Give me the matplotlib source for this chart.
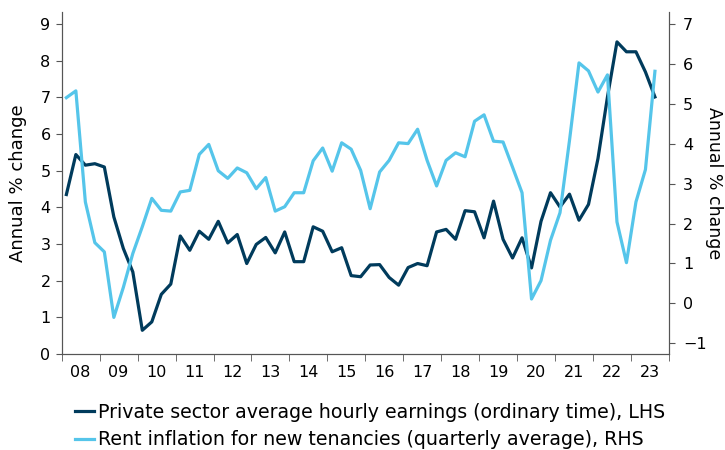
import matplotlib as mpl
mpl.use('Agg')
import matplotlib.pyplot as plt
import numpy as np

## Data (quarterly, 2008 Q1 to 2023 Q3)

start_year = 2008
earnings = [4.35, 5.44, 5.15, 5.19,
            5.10, 3.74, 2.88, 2.24,
            0.65, 0.88, 1.63, 1.91,
            3.22, 2.83, 3.35, 3.13,
            3.62, 3.03, 3.26, 2.47,
            2.99, 3.18, 2.76, 3.33,
            2.52, 2.52, 3.47, 3.35,
            2.79, 2.90, 2.14, 2.11,
            2.43, 2.44, 2.09, 1.88,
            2.36, 2.47, 2.41, 3.33,
            3.40, 3.13, 3.91, 3.88,
            3.17, 4.17, 3.13, 2.62,
            3.17, 2.35, 3.62, 4.40,
            4.01, 4.36, 3.65, 4.08,
            5.33, 7.01, 8.51, 8.24,
            8.24, 7.69, 7.01]
rent = [5.15, 5.32, 2.54, 1.52,
        1.29, -0.35, 0.40, 1.25,
        1.92, 2.63, 2.33, 2.31,
        2.79, 2.83, 3.73, 3.98,
        3.32, 3.13, 3.39, 3.27,
        2.87, 3.15, 2.31, 2.42,
        2.77, 2.77, 3.57, 3.89,
        3.31, 4.02, 3.86, 3.33,
        2.37, 3.29, 3.58, 4.02,
        4.00, 4.36, 3.58, 2.94,
        3.58, 3.77, 3.67, 4.56,
        4.72, 4.06, 4.04, 3.41,
        2.77, 0.11, 0.57, 1.58,
        2.27, 4.08, 6.02, 5.82,
        5.29, 5.72, 2.04, 1.02,
        2.54, 3.35, 5.81]
years = list(range(2008, 2024))
year_labels = ['%02d' % (y % 100) for y in years]

earn_label = 'Private sector average hourly earnings (ordinary time), LHS'
rent_label = 'Rent inflation for new tenancies (quarterly average), RHS'

## Plot

DARK = '#003b5c'
LIGHT = '#55c5ea'
GREY = '#555555'
plt.rcParams['font.family'] = 'DejaVu Sans'
plt.rcParams['font.size'] = 11.5

t = start_year + (np.arange(len(earnings)) + 0.5) / 4

fig = plt.figure(figsize=(7.25, 4.5), dpi=100)
ax = fig.add_axes([0.085, 0.213, 0.838, 0.76])
ax2 = ax.twinx()

l1, = ax.plot(t, earnings, color=DARK, lw=2.3, label=earn_label)
l2, = ax2.plot(t[:len(rent)], rent, color=LIGHT, lw=2.3, label=rent_label)

ax.set_xlim(2008, 2024)
ax.set_ylim(0, 9.32)
ax2.set_ylim(-1.27, 7.29)
ax.set_yticks(range(0, 10))
ax2.set_yticks(range(-1, 8))

ax.set_xticks(years + [2024], minor=True)
ax.set_xticks(np.array(years) + 0.5)
ax.set_xticklabels(year_labels)
ax.tick_params(axis='x', which='major', length=0, pad=8)
ax.tick_params(axis='x', which='minor', length=5, color=GREY)
ax.tick_params(axis='y', length=4, color=GREY, pad=4)
ax2.tick_params(axis='y', length=4, color=GREY, pad=6)

for a in (ax, ax2):
    a.spines['top'].set_visible(False)
    for s in ('left', 'right', 'bottom'):
        a.spines[s].set_color(GREY)

ax.set_ylabel('Annual % change', fontsize=13, va='center')
ax.yaxis.set_label_coords(-0.072, 0.5)
ax2.set_ylabel('Annual % change', fontsize=12.5, rotation=270, va='center')
ax2.yaxis.set_label_coords(1.0745, 0.5)

fig.legend(handles=[l1, l2], loc='upper left', bbox_to_anchor=(0.103, 0.105),
           frameon=False, fontsize=13.7, handlelength=1.0, handletextpad=0.2,
           labelspacing=0.45, borderaxespad=0, borderpad=0)

plt.savefig('out.png')
